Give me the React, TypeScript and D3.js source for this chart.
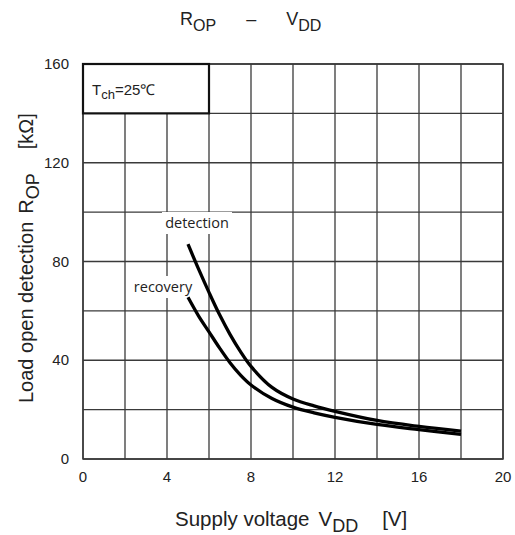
import React from "react";
import * as d3 from "d3";

const xTicks = [0, 4, 8, 12, 16, 20];
const yTicks = [0, 40, 80, 120, 160];
const xGrid = [0, 2, 4, 6, 8, 10, 12, 14, 16, 18, 20];
const yGrid = [0, 20, 40, 60, 80, 100, 120, 140, 160];

const detectionV = [5, 5.5, 6, 6.5, 7, 7.5, 8, 9, 10, 11, 12, 14, 16, 18];
const detectionR = [87, 77, 67.5, 58.5, 50.5, 43.5, 37.5, 29, 24.3, 21.5, 19.3, 15.6, 13.2, 11.3];
const recoveryV = [5, 5.5, 6, 6.5, 7, 7.5, 8, 9, 10, 11, 12, 14, 16, 18];
const recoveryR = [65.5, 58, 51.5, 45, 39, 34, 30, 24.5, 21, 18.7, 16.9, 14, 11.9, 10];

const W = 515;
const H = 535;
const left = 83;
const right = 503;
const top = 64;
const bottom = 459;

export default function App() {
  const x = d3.scaleLinear().domain([0, 20]).range([left, right]);
  const y = d3.scaleLinear().domain([0, 160]).range([bottom, top]);
  const line = d3
    .line<[number, number]>()
    .x((d) => x(d[0]))
    .y((d) => y(d[1]))
    .curve(d3.curveCatmullRom.alpha(0.5));
  const det = detectionV.map((v, i) => [v, detectionR[i]] as [number, number]);
  const rec = recoveryV.map((v, i) => [v, recoveryR[i]] as [number, number]);
  const font = "Liberation Sans, Arial, sans-serif";
  const gridColor = "#3a3a3a";
  const txt = "#222";
  return (
    <svg
      width={W}
      height={H}
      style={{ position: "absolute", left: 0, top: 0, background: "#fff" }}
      fontFamily={font}
    >
      <rect x={0} y={0} width={W} height={H} fill="#fff" />
      {/* title */}
      <text x={180} y={25} fontSize={18} fill={txt}>
        R<tspan fontSize={16} dy={6}>OP</tspan>
        <tspan dy={-6} dx={30}>–</tspan>
        <tspan dx={30}>V</tspan>
        <tspan fontSize={16} dy={6}>DD</tspan>
      </text>
      {/* grid */}
      {xGrid.map((v) => (
        <line key={"gx" + v} x1={x(v)} x2={x(v)} y1={y(0)} y2={y(160)} stroke={gridColor} strokeWidth={1.3} />
      ))}
      {yGrid.map((v) => (
        <line key={"gy" + v} x1={x(0)} x2={x(20)} y1={y(v)} y2={y(v)} stroke={gridColor} strokeWidth={1.3} />
      ))}
      <rect x={x(0)} y={y(160)} width={x(20) - x(0)} height={y(0) - y(160)} fill="none" stroke={gridColor} strokeWidth={1.5} />
      {/* condition box */}
      <rect x={x(0)} y={y(160)} width={x(6) - x(0)} height={y(140) - y(160)} fill="#fff" stroke="#111" strokeWidth={2.2} />
      <text x={92} y={95} fontSize={15} fill={txt}>
        T<tspan fontSize={13} dy={4}>ch</tspan>
        <tspan dy={-4}>=25℃</tspan>
      </text>
      {/* tick labels */}
      {xTicks.map((v) => (
        <text key={"tx" + v} x={x(v)} y={482} fontSize={15} textAnchor="middle" fill={txt}>
          {v}
        </text>
      ))}
      {yTicks.map((v) => (
        <text key={"ty" + v} x={69} y={y(v) + 5} fontSize={15} textAnchor="end" fill={txt}>
          {v}
        </text>
      ))}
      {/* curve labels */}
      <rect x={162} y={212} width={70} height={22} fill="#fff" />
      <text x={197} y={228} fontSize={14.5} textAnchor="middle" fontFamily="Open Sans, sans-serif" fill={txt}>
        detection
      </text>
      <rect x={130} y={276} width={66} height={22} fill="#fff" />
      <text x={163} y={292} fontSize={14.5} textAnchor="middle" fontFamily="Open Sans, sans-serif" fill={txt}>
        recovery
      </text>
      {/* curves */}
      <path d={line(det) || ""} fill="none" stroke="#000" strokeWidth={3.3} />
      <path d={line(rec) || ""} fill="none" stroke="#000" strokeWidth={3.3} />
      {/* axis labels */}
      <text x={175} y={526} fontSize={20.5} fill={txt}>
        Supply voltage<tspan dx={9}>V</tspan>
        <tspan fontSize={18} dy={6}>DD</tspan>
        <tspan dy={-6} dx={24}>[V]</tspan>
      </text>
      <text transform={`translate(33,403) rotate(-90)`} fontSize={20} fill={txt}>
        Load open detection<tspan dx={8}>R</tspan>
        <tspan fontSize={18} dy={6}>OP</tspan>
        <tspan dy={-6} dx={24}>[kΩ]</tspan>
      </text>
    </svg>
  );
}
